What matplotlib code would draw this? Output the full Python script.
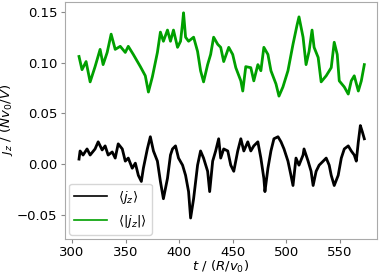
import matplotlib
matplotlib.use("Agg")
import matplotlib.pyplot as plt

# <|j_z|> (green)
t_abs = [306.5, 309.3, 313.1, 316.9, 321.5, 326.2, 329.0, 332.8, 336.5, 340.3,
         345.0, 349.7, 352.5, 357.2, 363.8, 368.4, 371.3, 375.0, 379.7, 382.5,
         385.3, 389.1, 391.9, 394.7, 398.5, 401.3, 403.0, 404.1, 406.0, 408.8,
         413.5, 417.2, 420.0, 422.8, 426.6, 429.4, 432.2, 436.0, 438.8, 441.6,
         446.3, 450.0, 452.9, 457.6, 459.4, 462.2, 466.9, 469.7, 473.5, 476.3,
         479.1, 482.9, 485.7, 490.4, 493.2, 496.9, 501.6, 506.3, 510.1, 511.9,
         515.7, 518.5, 521.3, 524.1, 526.0, 529.8, 532.6, 537.3, 542.0, 544.8,
         547.6, 549.5, 554.2, 557.9, 560.7, 563.5, 567.3, 570.1, 572.9]
jz_abs = [0.106, 0.093, 0.101, 0.081, 0.096, 0.113, 0.098, 0.110, 0.128, 0.113,
          0.116, 0.110, 0.116, 0.108, 0.096, 0.087, 0.071, 0.086, 0.110, 0.130,
          0.121, 0.132, 0.121, 0.132, 0.115, 0.121, 0.137, 0.149, 0.125, 0.121,
          0.125, 0.111, 0.092, 0.081, 0.098, 0.108, 0.125, 0.118, 0.115, 0.101,
          0.115, 0.108, 0.095, 0.082, 0.072, 0.096, 0.095, 0.082, 0.098, 0.092,
          0.115, 0.108, 0.092, 0.079, 0.067, 0.076, 0.092, 0.118, 0.137, 0.145,
          0.125, 0.098, 0.111, 0.132, 0.115, 0.105, 0.081, 0.087, 0.095, 0.120,
          0.108, 0.082, 0.076, 0.069, 0.082, 0.087, 0.072, 0.082, 0.098]

# <j_z> (black)
t_mean = [306.5, 307.5, 310.3, 314.0, 316.9, 321.5, 324.4, 328.1, 330.9, 333.7,
          337.5, 340.3, 343.1, 346.9, 349.7, 352.5, 356.2, 359.1, 361.9, 364.7,
          366.6, 370.3, 373.1, 376.0, 379.7, 382.5, 385.3, 389.1, 391.9, 393.8,
          396.6, 399.4, 403.2, 406.0, 408.8, 410.7, 413.5, 417.2, 420.0, 422.8,
          426.6, 428.5, 431.3, 434.1, 436.9, 438.8, 441.6, 445.4, 448.2, 451.0,
          454.7, 457.6, 460.4, 464.1, 466.9, 469.7, 473.5, 476.3, 479.1, 480.1,
          482.9, 485.7, 488.5, 492.3, 495.1, 497.9, 501.6, 504.4, 506.3, 509.1,
          511.9, 515.7, 516.6, 520.4, 523.2, 525.1, 527.9, 530.7, 534.5, 537.3,
          540.1, 542.0, 544.8, 548.5, 551.4, 554.2, 557.9, 560.7, 563.5, 565.4,
          567.3, 569.2, 571.0, 572.9]
jz_mean = [0.005, 0.013, 0.009, 0.015, 0.009, 0.015, 0.022, 0.014, 0.018, 0.009,
           0.012, 0.006, 0.020, 0.015, 0.003, 0.006, -0.004, 0.001, -0.011, -0.017,
           -0.004, 0.015, 0.027, 0.013, 0.003, -0.017, -0.034, -0.014, 0.009, 0.015,
           0.018, 0.006, -0.001, -0.011, -0.027, -0.053, -0.034, -0.001, 0.013, 0.006,
           -0.007, -0.027, 0.003, 0.013, 0.025, 0.006, 0.015, 0.013, -0.001, -0.007,
           0.013, 0.025, 0.013, 0.022, 0.013, 0.018, 0.022, 0.006, -0.014, -0.027,
           -0.004, 0.013, 0.025, 0.027, 0.022, 0.015, 0.003, -0.011, -0.021, 0.006,
           -0.001, 0.009, 0.015, 0.003, -0.007, -0.021, -0.007, -0.001, 0.003, 0.006,
           -0.001, -0.011, -0.021, -0.011, 0.006, 0.015, 0.018, 0.013, 0.009, 0.003,
           0.022, 0.038, 0.032, 0.025]

xticks = [300, 350, 400, 450, 500, 550]
yticks = [-0.05, 0.00, 0.05, 0.10, 0.15]

fig = plt.figure(figsize=(3.8, 2.76), dpi=100)
ax = fig.add_axes([0.171, 0.135, 0.821, 0.858])

ax.plot(t_mean, jz_mean, color='black', lw=2.0, label=r'$\langle j_z\rangle$')
ax.plot(t_abs, jz_abs, color='#00a000', lw=2.0, label=r'$\langle |j_z|\rangle$')

ax.set_xlim(293.4, 584.7)
ax.set_ylim(-0.0734, 0.1597)
ax.set_xticks(xticks)
ax.set_yticks(yticks)
ax.set_yticklabels([f"{v:.2f}".replace('-', '\u2212') for v in yticks])
ax.tick_params(labelsize=9.5, color='#888888', length=3, pad=2.5)
for s in ax.spines.values():
    s.set_color('#aaaaaa')

ax.set_xlabel(r'$t\ /\ (R/v_0)$', fontsize=9.5, labelpad=0)
ax.set_ylabel(r'$j_z\ /\ (Nv_0/V)$', fontsize=9.5, labelpad=1)
leg = ax.legend(loc='lower left', fontsize=9.5, handlelength=2.5, borderaxespad=0.3)
for line in leg.get_lines():
    line.set_linewidth(1.2)

fig.savefig('out.png', dpi=100)
